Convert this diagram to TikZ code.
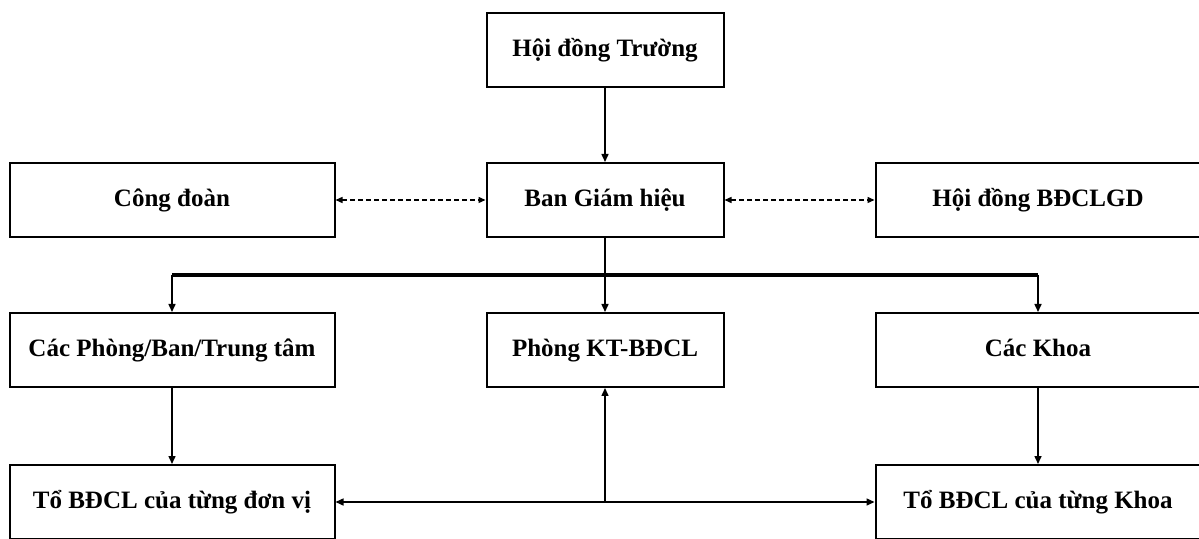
\documentclass[tikz,border=0pt]{standalone}
\usepackage{fontspec}
\setmainfont{Liberation Serif}
\usepackage{tikz}
\usetikzlibrary{arrows.meta,positioning,calc}
\tikzset{
  orgbox/.style ={draw=black,line width=1pt,fill=white,minimum height=37pt,
                  text height=9pt,text depth=2.5pt,
                  inner sep=3pt,align=center,font=\fontsize{12.5}{14}\selectfont\bfseries},
  wide/.style   ={orgbox,minimum width=162.5pt},
  mid/.style    ={orgbox,minimum width=118.5pt},
  flow/.style   ={-{Triangle[length=4pt,width=3.5pt]},line width=0.75pt,draw=black},
  link/.style   ={line width=0.75pt,draw=black},
  busline/.style={line width=1.8pt,draw=black},
  coop/.style   ={{Triangle[length=3.5pt,width=3pt]}-{Triangle[length=3.5pt,width=3pt]},
                  line width=0.7pt,draw=black,dash pattern=on 2.5pt off 1.5pt}
}
\begin{document}
\begin{tikzpicture}[x=0.5pt,y=-0.5pt,node distance=37pt and 75pt]
    \useasboundingbox (0,0) rectangle (1199,539);
    \node[mid] (hdt) at (605,50) {Hội đồng Trường};
    \node[mid,below=of hdt] (bgh) {Ban Giám hiệu};
    \node[wide,left=of bgh] (cd) {Công đoàn};
    \node[wide,right=of bgh] (hdb) {Hội đồng BĐCLGD};
    \node[mid,below=of bgh] (pkt) {Phòng KT-BĐCL};
    \node[wide,left=of pkt] (cp) {Các Phòng/Ban/Trung tâm};
    \node[wide,right=of pkt] (ck) {Các Khoa};
    \node[wide,below=38pt of cp] (tdv) {Tổ BĐCL của từng đơn vị};
    \node[wide,below=38pt of ck] (tk) {Tổ BĐCL của từng Khoa};
    % top part
    \draw[flow] (hdt) -- (bgh);
    \draw[coop] (cd) -- (bgh);
    \draw[coop] (bgh) -- (hdb);
    % bus to the three units
    \coordinate (bus) at ($(bgh.south)!0.5!(pkt.north)$);
    \draw[link] (bgh) -- (bus);
    \draw[busline] (cp.north |- bus) -- (ck.north |- bus);
    \foreach \n in {cp,pkt,ck}
      \draw[flow] (\n.north |- bus) -- (\n);
    % lower part
    \draw[flow] (cp) -- (tdv);
    \draw[flow] (ck) -- (tk);
    \coordinate (junc) at (pkt.south |- tdv.east);
    \draw[flow] (junc) -- (tdv);
    \draw[flow] (junc) -- (tk);
    \draw[flow] (junc) -- (pkt);
\end{tikzpicture}
\end{document}
